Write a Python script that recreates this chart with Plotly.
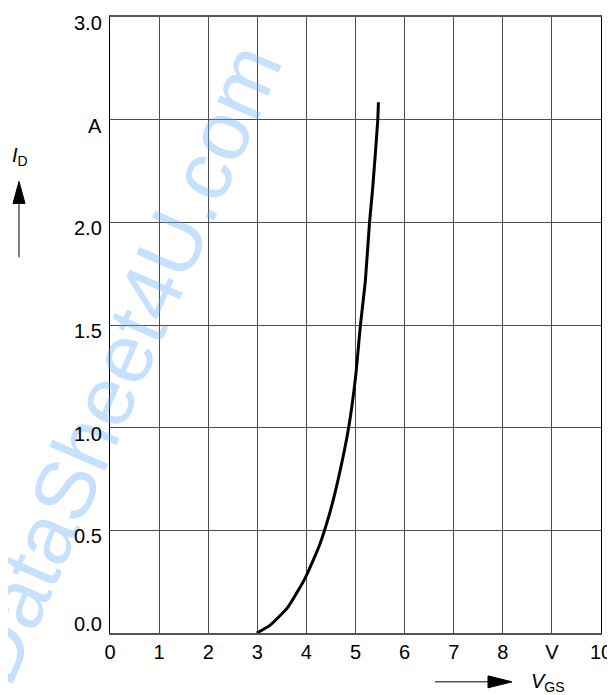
import plotly.graph_objects as go

# Data
vgs = [2.99, 3.25, 3.62, 3.98, 4.27, 4.47, 4.64, 4.86, 5.0, 5.10, 5.20, 5.285, 5.35, 5.453, 5.467]
id_a = [0.0, 0.036, 0.125, 0.27, 0.43, 0.58, 0.741, 1.0, 1.244, 1.498, 1.714, 1.997, 2.167, 2.496, 2.585]

x_tickvals = [0, 1, 2, 3, 4, 5, 6, 7, 8, 9, 10]
x_ticktext = ["0", "1", "2", "3", "4", "5", "6", "7", "8", "V", "10"]
y_tickvals = [0.0, 0.5, 1.0, 1.5, 2.0, 2.5, 3.0]
y_ticktext = ["0.0", "0.5", "1.0", "1.5", "2.0", "A", "3.0"]

FONT = "Liberation Sans, Arial, sans-serif"
W, H = 615, 695
OFF = 8  # page body offset
L, R, T, B = 102, 22, 7, 70
pw, ph = W - L - R, H - T - B
X0 = OFF + L          # plot left in window pixels
Y0 = OFF + H - B      # plot bottom in window pixels


def px(xp):
    return (xp - X0) / pw


def py(yp):
    return (Y0 - yp) / ph


fig = go.Figure()
fig.add_trace(go.Scatter(x=vgs, y=id_a, mode="lines",
                         line=dict(color="black", width=3, shape="spline", smoothing=0.5),
                         hoverinfo="skip", showlegend=False))

fig.update_xaxes(range=[0, 10], tickvals=x_tickvals, ticktext=x_ticktext,
                 showgrid=True, gridcolor="#4d4d4d", gridwidth=1,
                 showline=True, linecolor="#555", linewidth=1.5, mirror=True,
                 zeroline=False, ticks="", tickfont=dict(family=FONT, size=20, color="black"))
fig.update_yaxes(range=[0, 3], tickvals=y_tickvals, showticklabels=False,
                 showgrid=True, gridcolor="#4d4d4d", gridwidth=1,
                 showline=True, linecolor="black", linewidth=1, mirror=True,
                 zeroline=False, ticks="")

annotations = []
# watermark
annotations.append(dict(x=px(120), y=py(363), xref="paper", yref="paper",
                        xanchor="center", yanchor="middle",
                        text="DataSheet4U.com", showarrow=False, textangle=-66.5,
                        font=dict(family=FONT, size=84, color="rgba(100,170,250,0.36)")))
# y tick labels
for v, t in zip(y_tickvals, y_ticktext):
    annotations.append(dict(x=0, xref="paper", y=v, yref="y", text=t, showarrow=False,
                            xanchor="right", yanchor="middle", xshift=-6,
                            yshift=(9 if v == 0 else -6),
                            font=dict(family=FONT, size=20, color="black")))

# axis titles
annotations.append(dict(x=px(20), y=py(155), xref="paper", yref="paper",
                        xanchor="center", yanchor="middle",
                        text="<i>I</i><sub>D</sub>", showarrow=False,
                        font=dict(family=FONT, size=20, color="black")))
annotations.append(dict(x=px(548), y=py(683), xref="paper", yref="paper",
                        xanchor="center", yanchor="middle",
                        text="<i>V</i><sub>GS</sub>", showarrow=False,
                        font=dict(family=FONT, size=20, color="black")))
fig.update_layout(annotations=annotations)

shapes = [
    # y arrow
    dict(type="line", xref="paper", yref="paper", x0=px(19), x1=px(19), y0=py(256), y1=py(200),
         line=dict(color="black", width=1)),
    dict(type="path", xref="paper", yref="paper",
         path=f"M {px(13)} {py(202)} L {px(25)} {py(202)} L {px(19)} {py(180)} Z",
         fillcolor="black", line=dict(color="black", width=1)),
    # x arrow
    dict(type="line", xref="paper", yref="paper", x0=px(435), x1=px(490), y0=py(682), y1=py(682),
         line=dict(color="black", width=1)),
    dict(type="path", xref="paper", yref="paper",
         path=f"M {px(488)} {py(676)} L {px(488)} {py(688)} L {px(512)} {py(682)} Z",
         fillcolor="black", line=dict(color="black", width=1)),
]
fig.update_layout(shapes=shapes)

fig.update_layout(width=W, height=H, margin=dict(l=L, r=R, t=T, b=B),
                  paper_bgcolor="white", plot_bgcolor="white", showlegend=False)

fig.write_html("out.html")
